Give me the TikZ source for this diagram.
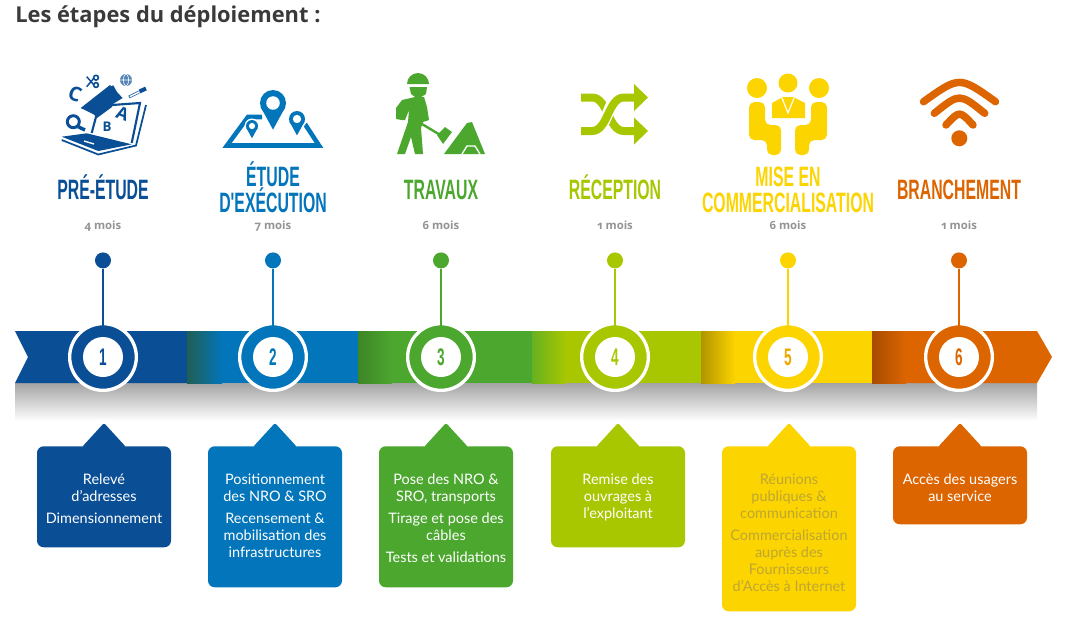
\documentclass[tikz,border=0pt]{standalone}
\usepackage{fontspec}
\usepackage{xcolor}
\usepackage{tikz}
\usetikzlibrary{positioning, calc}
\setmainfont{Lato}
\newfontfamily\headfont{Open Sans}
\newfontfamily\monthfont[Numbers=OldStyle]{Open Sans}
\newfontfamily\stepfont[FakeStretch=0.565]{Liberation Sans}
\definecolor{stepone}{HTML}{0A4F96}
\definecolor{steptwo}{HTML}{0275BB}
\definecolor{stepthree}{HTML}{4CA72F}
\definecolor{stepfour}{HTML}{A8C700}
\definecolor{stepfive}{HTML}{FCD400}
\definecolor{stepsix}{HTML}{DD6500}
\definecolor{cardink}{HTML}{BFA634}
\definecolor{headink}{HTML}{3A3A3A}

% pointed top of a card
\newcommand{\cardtip}[2]{%
  \fill[#2, rounded corners=1.5pt] ($(#1.north)+(-22,1)$) -- ($(#1.north)+(0,-23)$) -- ($(#1.north)+(22,1)$) -- cycle;}
% map pin: x, y, head radius
\newcommand{\mappin}[3]{%
  \begin{scope}[shift={(#1,#2)}, scale=#3]
    \fill[white] (0,0) circle (1.25);
    \fill[steptwo] (0,0) circle (1);
    \fill[steptwo] (-0.95,0.3) -- (0,2.05) -- (0.95,0.3) -- cycle;
    \fill[white] (0,0) circle (0.52);
  \end{scope}}

\begin{document}
\begin{tikzpicture}[
  x=0.75pt, y=-0.75pt,
  heading/.style={anchor=west, inner sep=0pt, text=headink,
                  font=\headfont\fontsize{16.4}{19}\selectfont\bfseries},
  title/.style={align=center, inner sep=0pt, text depth=0pt,
                font=\stepfont\fontsize{21}{19.5}\selectfont\bfseries},
  month/.style={inner sep=0pt, text height=6pt, text depth=0pt, text=black!42,
                font=\monthfont\fontsize{8.5}{10}\selectfont\bfseries},
  pindot/.style={circle, inner sep=0pt, minimum size=12pt},
  stem/.style={line width=1.6pt, shorten >=-3pt},
  ring/.style={circle, draw=white, line width=2.5pt, inner sep=0pt, minimum size=50pt},
  numdisc/.style={circle, fill=white, inner sep=0pt, minimum size=30pt,
                  font=\stepfont\fontsize{18}{18}\selectfont\bfseries},
  card/.style={anchor=north, rounded corners=5pt, inner sep=0pt, minimum width=100.5pt},
  cardtext/.style={anchor=north, align=center, inner sep=0pt,
                   font=\fontsize{10.85}{12.75}\selectfont},
  glyph/.style={inner sep=0pt}
]
\useasboundingbox (0,0) rectangle (1069,619);
\fill[white] (0,0) rectangle (1069,619);

\node[heading] (heading) at (15,17) {Les étapes du déploiement :};

% Shadow under the ribbon
\shade[top color=black!36, middle color=black!13, bottom color=white] (15,383) rectangle (1037,421);

% Ribbon, one colour per step
\fill[stepone] (15,331) -- (187,331) -- (187,383) -- (15,383) -- (28,357) -- cycle;
\fill[steptwo] (187,331) rectangle (358,383);
\fill[stepthree] (358,331) rectangle (532,383);
\fill[stepfour] (532,331) rectangle (701,383);
\fill[stepfive] (701,331) rectangle (872,383);
\fill[stepsix] (872,331) -- (1037,331) -- (1052,357) -- (1037,383) -- (872,383) -- cycle;
\shade[left color=stepone!55!stepthree!80!black, right color=steptwo] (187,331) rectangle (222,383);
\shade[left color=stepthree!80!black, right color=stepthree] (358,331) rectangle (392,383);
\shade[left color=stepthree!70!stepfour, right color=stepfour] (532,331) rectangle (566,383);
\shade[left color=stepfive!70!black, right color=stepfive] (701,331) rectangle (735,383);
\shade[left color=stepsix!75!black, right color=stepsix] (872,331) rectangle (906,383);

% Rings on the ribbon
\node[ring, fill=stepone] (ring1) at (103,357) {};
\node[ring, fill=steptwo] (ring2) at (273,357) {};
\node[ring, fill=stepthree] (ring3) at (441,357) {};
\node[ring, fill=stepfour] (ring4) at (615,357) {};
\node[ring, fill=stepfive] (ring5) at (788,357) {};
\node[ring, fill=stepsix] (ring6) at (959,357) {};
\node[numdisc, text=stepone] (num1) at (ring1) {1};
\node[numdisc, text=steptwo] (num2) at (ring2) {2};
\node[numdisc, text=stepthree] (num3) at (ring3) {3};
\node[numdisc, text=stepfour] (num4) at (ring4) {4};
\node[numdisc, text=stepfive!60!stepsix] (num5) at (ring5) {5};
\node[numdisc, text=stepsix] (num6) at (ring6) {6};

% Pins above the rings
\node[pindot, fill=stepone, above=40pt of ring1] (dot1) {};
\node[pindot, fill=steptwo, above=40pt of ring2] (dot2) {};
\node[pindot, fill=stepthree, above=40pt of ring3] (dot3) {};
\node[pindot, fill=stepfour, above=40pt of ring4] (dot4) {};
\node[pindot, fill=stepfive, above=40pt of ring5] (dot5) {};
\node[pindot, fill=stepsix, above=40pt of ring6] (dot6) {};
\draw[stem, stepone] (dot1) -- (ring1);
\draw[stem, steptwo] (dot2) -- (ring2);
\draw[stem, stepthree] (dot3) -- (ring3);
\draw[stem, stepfour] (dot4) -- (ring4);
\draw[stem, stepfive] (dot5) -- (ring5);
\draw[stem, stepsix] (dot6) -- (ring6);

% Durations
\node[month, above=16.5pt of dot1] (month1) {4 mois};
\node[month, above=16.5pt of dot2] (month2) {7 mois};
\node[month, above=16.5pt of dot3] (month3) {6 mois};
\node[month, above=16.5pt of dot4] (month4) {1 mois};
\node[month, above=16.5pt of dot5] (month5) {6 mois};
\node[month, above=16.5pt of dot6] (month6) {1 mois};

% Step titles
\node[title, text=stepone, above=16.5pt of month1] (title1) {PRÉ-ÉTUDE};
\node[title, text=steptwo, above=6.5pt of month2] (title2) {ÉTUDE\\D'EXÉCUTION};
\node[title, text=stepthree, above=16.5pt of month3] (title3) {TRAVAUX};
\node[title, text=stepfour, above=16.5pt of month4] (title4) {RÉCEPTION};
\node[title, text=stepfive, above=6.5pt of month5] (title5) {MISE EN\\COMMERCIALISATION};
\node[title, text=stepsix, above=16.5pt of month6] (title6) {BRANCHEMENT};

% Cards below the ribbon
\node[card, fill=stepone, minimum height=75.75pt] (card1) at (104,446) {};
\node[card, fill=steptwo, minimum height=105.75pt] (card2) at (275,446) {};
\node[card, fill=stepthree, minimum height=105.75pt] (card3) at (446,446) {};
\node[card, fill=stepfour, minimum height=75.75pt] (card4) at (618,446) {};
\node[card, fill=stepfive, minimum height=123.75pt] (card5) at (789,446) {};
\node[card, fill=stepsix, minimum height=58.5pt] (card6) at (960,446) {};
\cardtip{card1}{stepone}
\cardtip{card2}{steptwo}
\cardtip{card3}{stepthree}
\cardtip{card4}{stepfour}
\cardtip{card5}{stepfive}
\cardtip{card6}{stepsix}

\node[cardtext, text=white, below=20.5pt of card1.north] (text1) {Relevé\\d'adresses\\[4pt]Dimensionnement};
\node[cardtext, text=white, below=20.5pt of card2.north] (text2) {Positionnement\\des NRO \& SRO\\[4pt]Recensement \&\\mobilisation des\\infrastructures};
\node[cardtext, text=white, below=20.5pt of card3.north] (text3) {Pose des NRO \&\\SRO, transports\\[4pt]Tirage et pose des\\câbles\\[4pt]Tests et validations};
\node[cardtext, text=white, below=20.5pt of card4.north] (text4) {Remise des\\ouvrages à\\l'exploitant};
\node[cardtext, text=cardink, below=20.5pt of card5.north] (text5) {Réunions\\publiques \&\\communication\\[4pt]Commercialisation\\auprès des\\Fournisseurs\\d'Accès à Internet};
\node[cardtext, text=white, below=20.5pt of card6.north] (text6) {Accès des usagers\\au service};

% Icon 1: laptop, cap and letters
\fill[stepone] (61.7,136.7) -- (86.7,133.3) -- (131.7,144.3) -- (98.3,151) -- cycle;
\draw[stepone, line width=1.3pt] (61.7,140) -- (98.3,154.5) -- (136,145.5) -- (146,105);
\draw[stepone, line width=1.6pt] (91.7,133) -- (97,113);
\draw[stepone, line width=1.6pt] (112,105) -- (140,103) -- (131.7,143);
\fill[stepone] (80.7,108) -- (110,85) -- (122.7,98) -- (95,115) -- cycle;
\fill[stepone] (92,112) -- (113,99) -- (112,107) -- (97,118) -- cycle;
\draw[stepone, line width=2.2pt] (112,86) -- (118,97);
\draw[white, line width=1pt] (84,141) -- (94,144);
\draw[stepone, line width=2.2pt] (73.3,121.7) circle (6);
\draw[stepone, line width=2.6pt] (78,126.7) -- (85,130);
\node[glyph, text=stepone, rotate=-20, font=\headfont\bfseries\fontsize{15}{15}\selectfont] (letterc) at (75,94) {C};
\node[glyph, text=stepone, font=\headfont\bfseries\fontsize{10}{10}\selectfont] (letterb) at (107,127) {B};
\node[glyph, text=stepone, rotate=-20, font=\headfont\bfseries\fontsize{13}{13}\selectfont] (lettera) at (122.5,114) {A};
\draw[stepone, line width=1.1pt] (86.7,76.7) -- (94,85) (86.7,86.7) -- (94,78);
\draw[stepone, line width=1.2pt] (96,77.7) circle (2.4) (96,85) circle (2.4);
\fill[stepone!70!white] (126,80) circle (6);
\draw[white, line width=0.5pt] (120,80) -- (132,80) (126,80) ellipse (2.5 and 6);
\draw[stepone!80!white, line width=2.2pt] (129,97) -- (139,92);
\draw[white, line width=1pt] (130,96.5) -- (139,92);
\draw[stepone, line width=3pt] (139.5,91.5) -- (146,88.5);

% Icon 2: map and pins
\draw[steptwo, line width=3.4pt, line join=miter] (305,124) -- (319,145.5) -- (227,145.5) -- (248,117) -- (262,117);
\mappin{252}{126}{6}
\mappin{297}{119}{8}
\mappin{273}{103}{13}

% Icon 3: worker and mound
\fill[stepthree] (407,84) arc[start angle=180, end angle=360, radius=11] -- cycle;
\fill[stepthree] (409.5,87) -- (427,87) -- (426,94) -- (418,99) -- (411,94) -- cycle;
\fill[stepthree] (402,100) -- (415,97) -- (424,97) -- (427,107) -- (429,120) -- (423,122) -- (421,128) -- (423,154) -- (415,154) -- (411,137) -- (405,154) -- (397,154) -- (408,122) -- (409,110) -- (405,120) -- (402,120) -- (396,119) -- (396,108) -- cycle;
\draw[stepthree, line width=1.8pt] (422,124) -- (442,136);
\fill[stepthree] (437,135) -- (445,127) -- (452,132) -- (443,144) -- cycle;
\fill[stepthree] (444,154) -- (467,123) -- (472,122) -- (485,154) -- cycle;
\draw[white, line width=1pt] (462,154) -- (467,146) -- (475,146) -- (480,154);

% Icon 4: crossing arrows
\draw[stepfour, line width=6pt] (581,97.5) -- (592,97.5) .. controls (608,97.5) and (608,131) .. (624,131) -- (636,131);
\draw[white, line width=8.5pt] (596,128) .. controls (608,128) and (608,97.5) .. (620,97.5);
\draw[stepfour, line width=6pt] (581,131) -- (592,131) .. controls (608,131) and (608,97.5) .. (624,97.5) -- (636,97.5);
\fill[stepfour] (634,84) -- (648,97.5) -- (634,111) -- cycle;
\fill[stepfour] (634,117.5) -- (648,131) -- (634,144.5) -- cycle;

% Icon 5: three people
\fill[stepfive] (757,88) circle (10);
\fill[stepfive] (788,83) circle (9.5);
\fill[stepfive] (819,88) circle (10);
\fill[stepfive] (772,118) -- (772,103) -- (783,97) -- (793,97) -- (805,103) -- (805,118) -- cycle;
\draw[white, line width=0.9pt] (782,98) -- (788,113) -- (794,98);
\fill[stepfive, rounded corners=4pt] (749,102) -- (765,102) -- (765,125) -- (781,125) -- (781,155) -- (767,155) -- (767,140) -- (749,140) -- cycle;
\fill[stepfive, rounded corners=4pt] (827,102) -- (811,102) -- (811,125) -- (795,125) -- (795,155) -- (809,155) -- (809,140) -- (827,140) -- cycle;

% Icon 6: wifi
\draw[stepsix, line width=5.6pt, line cap=round] (923.5,101.7) .. controls (959.5,76) .. (995.5,101.7);
\draw[stepsix, line width=5.6pt, line cap=round] (934.3,113.3) .. controls (959.5,93) .. (984.7,113.3);
\draw[stepsix, line width=5.6pt, line cap=round] (946,125) .. controls (959.5,110.5) .. (973,125);
\fill[stepsix] (959.3,138.3) circle (8);

\end{tikzpicture}
\end{document}
